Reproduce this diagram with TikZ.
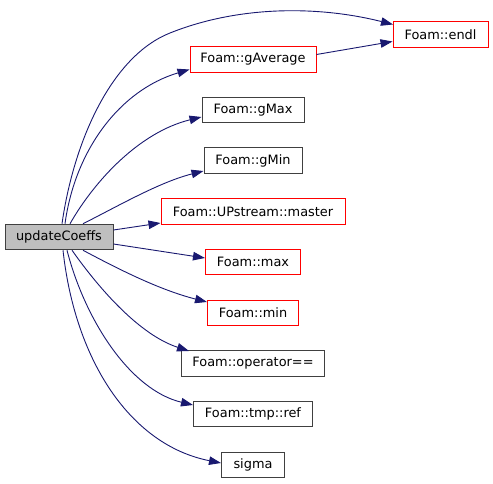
\documentclass[tikz,border=0pt]{standalone}
\usepackage{fontspec}
\setmainfont{DejaVu Sans}
\usetikzlibrary{arrows.meta}
\definecolor{edgeblue}{HTML}{191970}
\definecolor{boxgray}{HTML}{BFBFBF}
\definecolor{boxred}{HTML}{FF0000}
\definecolor{boxblack}{HTML}{404040}
\begin{document}
\begin{tikzpicture}[x=1pt,y=-1pt,
  fn/.style={draw, rectangle, inner sep=0pt, minimum height=25.5pt,
    font=\fontsize{12.9}{15}\selectfont, line width=1pt},
  redfn/.style={fn, draw=boxred},
  blkfn/.style={fn, draw=boxblack},
  call/.style={draw=edgeblue, line width=0.9pt, -{Triangle[length=12pt,width=8.5pt]}}]
\useasboundingbox (0,0) rectangle (493,484);
\node[blkfn, fill=boxgray, minimum width=108pt] (u) at (59,237) {updateCoeffs};
\node[redfn, minimum width=95pt] (endl) at (440.5,34.5) {Foam::endl};
\node[redfn, minimum width=126pt] (gavg) at (253,59.5) {Foam::gAverage};
\node[blkfn, minimum width=102pt] (gmax) at (253,110) {Foam::gMax};
\node[blkfn, minimum width=98pt] (gmin) at (253,160.5) {Foam::gMin};
\node[redfn, minimum width=184pt] (master) at (253,211.5) {Foam::UPstream::master};
\node[redfn, minimum width=95pt] (max) at (253,262) {Foam::max};
\node[redfn, minimum width=91pt] (min) at (253,313) {Foam::min};
\node[blkfn, minimum width=143pt] (op) at (253,363.5) {Foam::operator==};
\node[blkfn, minimum width=119pt] (ref) at (253,414) {Foam::tmp::ref};
\node[blkfn, minimum width=63pt] (sigma) at (253,465) {sigma};
% edges
\draw[call] ([xshift=3pt]u.north) .. controls (74,140) and (112,56) .. (170,33)
  .. controls (240,5) and (320,6) .. ([xshift=-47.5pt,yshift=10pt]endl.center);
\draw[call] ([yshift=5pt]gavg.east) -- ([yshift=-7pt]endl.west);
\draw[call] ([xshift=6pt]u.north) .. controls (75,150) and (120,90) .. ([yshift=-10pt]gavg.west);
\draw[call] ([xshift=11pt]u.north) .. controls (95,180) and (140,132) .. ([yshift=-7pt]gmax.west);
\draw[call] ([xshift=24pt]u.north) .. controls (120,205) and (160,182) .. ([yshift=-10.5pt]gmin.west);
\draw[call] ([yshift=7pt]u.east) -- ([yshift=-11.5pt]master.west);
\draw[call] ([yshift=-7pt]u.east) -- ([yshift=4pt]max.west);
\draw[call] ([xshift=24pt]u.south) .. controls (120,270) and (160,290) .. ([yshift=11pt]min.west);
\draw[call] ([xshift=13pt]u.south) .. controls (100,290) and (140,335) .. ([xshift=8pt,yshift=12.5pt]op.west);
\draw[call] ([xshift=8pt]u.south) .. controls (85,320) and (130,390) .. ([yshift=9pt]ref.west);
\draw[call] ([xshift=4pt]u.south) .. controls (75,360) and (130,445) .. ([yshift=2pt]sigma.west);
\end{tikzpicture}
\end{document}
